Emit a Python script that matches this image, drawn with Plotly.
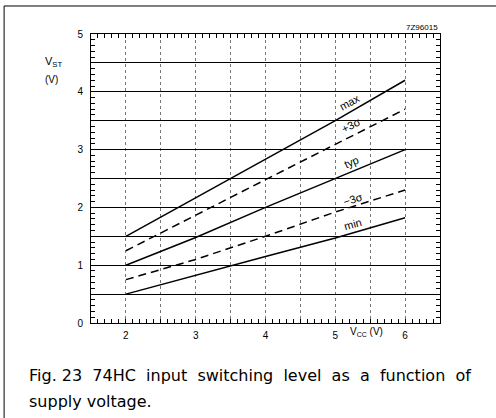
import plotly.graph_objects as go

vcc = [2, 3, 4, 5, 6]
vst_max = [1.5, 2.17, 2.83, 3.5, 4.2]
vst_plus3s = [1.25, 1.87, 2.48, 3.09, 3.7]
vst_typ = [1.0, 1.48, 2.0, 2.5, 3.0]
vst_minus3s = [0.75, 1.1, 1.5, 1.92, 2.3]
vst_min = [0.5, 0.83, 1.15, 1.47, 1.82]

x_tickvals = [2, 2.5, 3, 3.5, 4, 4.5, 5, 5.5, 6]
x_ticktext = ["2", "", "3", "", "4", "", "5", "", "6"]
y_tickvals = [0, 0.5, 1, 1.5, 2, 2.5, 3, 3.5, 4, 4.5, 5]
y_ticktext = ["0", "", "1", "", "2", "", "3", "", "4", "", "5"]

series = [
    ("max", vst_max, "solid", 5.21, 3.82, -29),
    ("+3σ", vst_plus3s, "8px,5px", 5.23, 3.43, -27),
    ("typ", vst_typ, "solid", 5.23, 2.79, -23),
    ("−3σ", vst_minus3s, "8px,5px", 5.26, 2.15, -18),
    ("min", vst_min, "solid", 5.25, 1.71, -15),
]

FONT = "Liberation Sans"
CAP_FONT = "DejaVu Sans"
fig = go.Figure()
for name, ys, dash, lx, ly, ang in series:
    fig.add_trace(go.Scatter(x=vcc, y=ys, mode="lines", name=name,
                             line=dict(color="black", width=1.5, dash=dash),
                             showlegend=False, hoverinfo="skip"))
    fig.add_annotation(x=lx, y=ly, text=name, showarrow=False, textangle=ang,
                       font=dict(size=11, color="black", family=FONT))

fig.update_xaxes(range=[1.5, 6.5], tickmode="array", tickvals=x_tickvals, ticktext=x_ticktext,
                 showgrid=True, gridcolor="#777", griddash="dot", gridwidth=1,
                 ticks="inside", ticklen=4, tickcolor="black", tickwidth=1,
                 minor=dict(dtick=0.1, tick0=1.5, ticks="inside", ticklen=4, tickcolor="black", showgrid=False),
                 showline=True, linecolor="black", linewidth=1, mirror="ticks",
                 ticklabelstandoff=3,
                 zeroline=False, tickfont=dict(size=10, family=FONT, color="black"))
fig.update_yaxes(range=[0, 5], tickmode="array", tickvals=y_tickvals, ticktext=y_ticktext,
                 showgrid=True, gridcolor="black", gridwidth=1,
                 ticks="inside", ticklen=4, tickcolor="black", tickwidth=1,
                 minor=dict(dtick=0.1, tick0=0, ticks="inside", ticklen=4, tickcolor="black", showgrid=False),
                 showline=True, linecolor="black", linewidth=1, mirror="ticks",
                 ticklabelstandoff=5,
                 zeroline=False, tickfont=dict(size=10, family=FONT, color="black"))

# axis labels
fig.add_annotation(xref="paper", yref="paper", x=-0.137, y=0.934, text="V<sub>ST</sub>",
                   showarrow=False, font=dict(size=11, family=FONT, color="black"))
fig.add_annotation(xref="paper", yref="paper", x=-0.137, y=0.868, text="(V)",
                   showarrow=False, font=dict(size=10, family=FONT, color="black"))
fig.add_annotation(xref="paper", yref="paper", x=0.735, y=-0.06, xanchor="left",
                   text="V<sub>CC</sub> (V)",
                   showarrow=False, font=dict(size=10, family=FONT, color="black"))
fig.add_annotation(xref="paper", yref="paper", x=1.0, y=1.0, xanchor="right", yanchor="bottom",
                   text="7Z96015", showarrow=False, font=dict(size=8, family=FONT, color="black"))
# caption
fig.add_annotation(xref="paper", yref="paper", x=-0.183, y=-0.18, xanchor="left", yanchor="middle",
                   text="Fig. 23  74HC  input  switching  level  as  a  function  of",
                   showarrow=False, font=dict(size=16, family=CAP_FONT, color="black"))
fig.add_annotation(xref="paper", yref="paper", x=-0.183, y=-0.27, xanchor="left", yanchor="middle",
                   text="supply voltage.", showarrow=False, font=dict(size=16, family=CAP_FONT, color="black"))

# page frame (left and top rule)
fig.add_shape(type="line", xref="paper", yref="paper", x0=-0.249, x1=-0.249, y0=1.0969, y1=-0.35,
              line=dict(color="black", width=1))
fig.add_shape(type="line", xref="paper", yref="paper", x0=-0.249, x1=1.2, y0=1.0969, y1=1.0969,
              line=dict(color="black", width=1))

fig.update_layout(width=496, height=418, margin=dict(l=91, r=56, t=34, b=95),
                  plot_bgcolor="white", paper_bgcolor="white")
fig.write_html("out.html", config={"displayModeBar": False},
               post_script="document.body.style.margin='0';")
